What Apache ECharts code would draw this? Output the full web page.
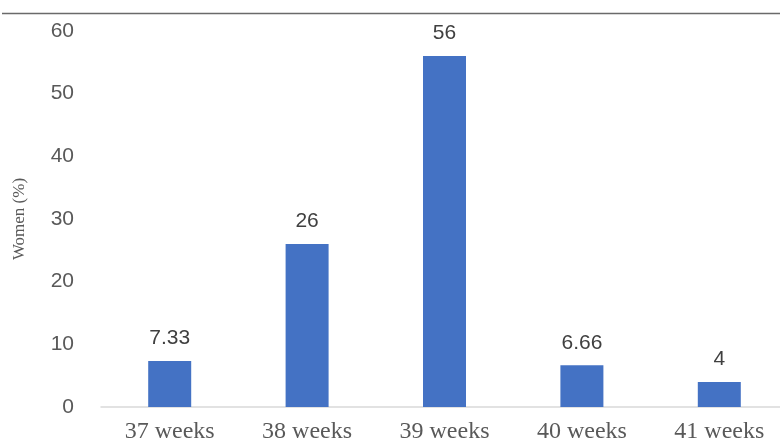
<!DOCTYPE html>
<html>
<head>
<meta charset="utf-8">
<script src="https://cdn.jsdelivr.net/npm/echarts@6/dist/echarts.min.js"></script>
<style>
  html, body { margin: 0; padding: 0; background: #ffffff; }
  #chart { width: 780px; height: 443px; }
</style>
</head>
<body>
<div id="chart"></div>
<script>
// Gestational age at delivery and share of women
const categories = ['37 weeks', '38 weeks', '39 weeks', '40 weeks', '41 weeks'];
const womenPct = [7.33, 26, 56, 6.66, 4];
const yTicks = { min: 0, max: 60, interval: 10 };
const yAxisTitle = 'Women (%)';

const chart = echarts.init(document.getElementById('chart'), null, { renderer: 'canvas' });

chart.setOption({
  backgroundColor: '#ffffff',
  animation: false,
  // plot area runs slightly past the right edge of the canvas
  grid: { left: 101, width: 687, top: 31, bottom: 36, outerBoundsMode: 'none' },
  graphic: [{
    type: 'line',
    shape: { x1: 2, y1: 13.5, x2: 780, y2: 13.5 },
    style: { stroke: '#6a6a6a', lineWidth: 1.5 }
  }],
  xAxis: {
    type: 'category',
    data: categories,
    axisLine: { show: true, lineStyle: { color: '#d9d9d9', width: 1.5 } },
    axisTick: { show: false },
    axisLabel: {
      color: '#595959',
      fontFamily: '"Liberation Serif", "Times New Roman", serif',
      fontSize: 24,
      margin: 13
    }
  },
  yAxis: {
    type: 'value',
    min: yTicks.min,
    max: yTicks.max,
    interval: yTicks.interval,
    name: yAxisTitle,
    nameLocation: 'middle',
    nameGap: 73,
    nameTextStyle: {
      color: '#595959',
      fontFamily: '"Liberation Serif", "Times New Roman", serif',
      fontSize: 17
    },
    axisLine: { show: false },
    axisTick: { show: false },
    splitLine: { show: false },
    axisLabel: {
      color: '#595959',
      fontFamily: '"Liberation Sans Narrow", "Liberation Sans", sans-serif',
      fontSize: 21,
      margin: 27
    }
  },
  series: [{
    type: 'bar',
    data: womenPct,
    barWidth: 43,
    itemStyle: { color: '#4472c4' },
    label: {
      show: true,
      position: 'top',
      distance: 12,
      color: '#404040',
      fontFamily: '"Liberation Sans Narrow", "Liberation Sans", sans-serif',
      fontSize: 21,
      formatter: (p) => String(p.value)
    }
  }]
});
</script>
</body>
</html>
